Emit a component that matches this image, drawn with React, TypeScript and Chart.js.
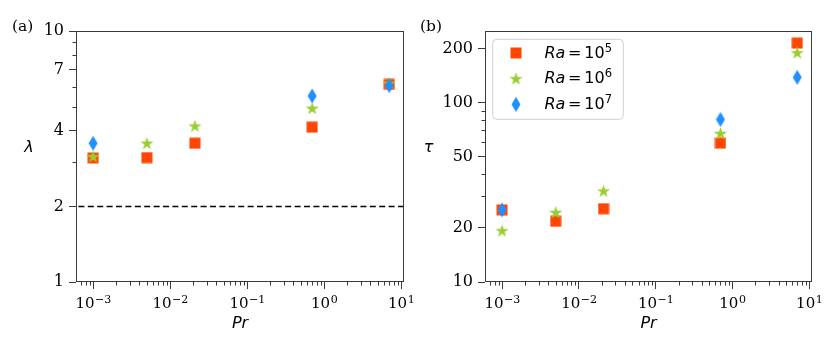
import React, { useEffect, useRef } from 'react';
import { Chart, registerables } from 'chart.js';

Chart.register(...registerables);

// ---------- data ----------
const PR = [1e-3, 5e-3, 2.1e-2, 0.7, 7];
const PR_RA7 = [1e-3, 0.7, 7];
const LAMBDA_RA5 = [3.12, 3.13, 3.57, 4.14, 6.13];
const LAMBDA_RA6 = [3.16, 3.57, 4.18, 4.92, 6.19];
const LAMBDA_RA7 = [3.57, 5.51, 6.06];
const TAU_RA5 = [25.2, 21.8, 25.6, 59.4, 214];
const TAU_RA6 = [19.3, 24.4, 32.1, 67.2, 189];
const TAU_RA7 = [25.2, 80.4, 138];
const LAMBDA_REF = 2;
const X_RANGE = [6.45e-4, 10.9];
const LAMBDA_RANGE = [1, 10];
const TAU_RANGE = [10, 250];
const X_TICK_EXPONENTS = [-3, -2, -1, 0, 1];
const LAMBDA_TICKS = [1, 2, 4, 7, 10];
const LAMBDA_MINOR = [3, 5, 6, 8, 9];
const TAU_TICKS = [10, 20, 50, 100, 200];
const TAU_MINOR = [30, 40, 60, 70, 80, 90];
const RA_EXPONENTS = ['5', '6', '7'];
const COLORS = ['#FF4500', '#9ACD32', '#1E90FF'];

const SPINE = '#3a3a3a';
const W = 415;
const H = 356;

function xMinorTicks(): number[] {
  const out: number[] = [];
  for (let e = -4; e <= 1; e++) {
    for (let m = 2; m <= 9; m++) {
      const v = m * Math.pow(10, e);
      if (v >= X_RANGE[0] && v <= X_RANGE[1]) out.push(v);
    }
  }
  return out;
}

function makeMarker(kind: string, color: string): HTMLCanvasElement {
  const c = document.createElement('canvas');
  const ctx = c.getContext('2d')!;
  if (kind === 'square') {
    c.width = 12; c.height = 12;
    ctx.fillStyle = color;
    ctx.fillRect(0.5, 0.5, 11, 11);
  } else if (kind === 'star') {
    c.width = 15; c.height = 15;
    const cx = 7.5, cy = 7.9, R = 7.0, r = R * 0.381966;
    ctx.fillStyle = color;
    ctx.beginPath();
    for (let i = 0; i < 10; i++) {
      const rad = i % 2 === 0 ? R : r;
      const a = -Math.PI / 2 + (i * Math.PI) / 5;
      const px = cx + rad * Math.cos(a);
      const py = cy + rad * Math.sin(a);
      if (i === 0) ctx.moveTo(px, py); else ctx.lineTo(px, py);
    }
    ctx.closePath();
    ctx.fill();
  } else {
    c.width = 10; c.height = 16;
    ctx.fillStyle = color;
    ctx.beginPath();
    ctx.moveTo(5, 0.5);
    ctx.lineTo(9.5, 8);
    ctx.lineTo(5, 15.5);
    ctx.lineTo(0.5, 8);
    ctx.closePath();
    ctx.fill();
  }
  return c;
}

function pts(xs: number[], ys: number[]) {
  return xs.map((x, i) => ({ x, y: ys[i] }));
}

interface PanelSpec {
  tag: string;
  yTitle: string;
  yRange: number[];
  yTicks: number[];
  yMinor: number[];
  yWidth: number;
  padRight: number;
  series: { xs: number[]; ys: number[] }[];
  refLine: number | null;
  legend: boolean;
  tagX: number;
  yTitleX: number;
}

function buildConfig(spec: PanelSpec, markers: HTMLCanvasElement[]): any {
  const xMinor = xMinorTicks();
  const datasets: any[] = spec.series.map((s, i) => ({
    label: 'Ra=10^' + RA_EXPONENTS[i],
    data: pts(s.xs, s.ys),
    pointStyle: markers[i],
    pointRadius: 6,
    pointHoverRadius: 6,
    showLine: false,
    order: 3 - i,
  }));
  if (spec.refLine !== null) {
    datasets.push({
      label: 'ref',
      data: pts(X_RANGE, [spec.refLine, spec.refLine]),
      showLine: true,
      borderColor: '#000',
      borderWidth: 1.5,
      borderDash: [6, 3.4],
      pointRadius: 0,
      order: 10,
    });
  }

  const decor = {
    id: 'decor' + spec.tag,
    afterDraw(chart: any) {
      const ctx: CanvasRenderingContext2D = chart.ctx;
      const a = chart.chartArea;
      const xs = chart.scales.x;
      const ys = chart.scales.y;
      ctx.save();
      // spines
      ctx.strokeStyle = SPINE;
      ctx.lineWidth = 1;
      const L = Math.round(a.left) + 0.5;
      const R = Math.round(a.right) - 0.5;
      const T = Math.round(a.top) + 0.5;
      const B = Math.round(a.bottom) - 0.5;
      ctx.strokeRect(L, T, R - L, B - T);
      // minor ticks
      ctx.beginPath();
      xMinor.forEach((v) => {
        const p = Math.round(xs.getPixelForValue(v)) + 0.5;
        ctx.moveTo(p, B);
        ctx.lineTo(p, B + 4);
      });
      spec.yMinor.forEach((v) => {
        const p = Math.round(ys.getPixelForValue(v)) + 0.5;
        ctx.moveTo(L, p);
        ctx.lineTo(L - 4, p);
      });
      ctx.stroke();
      // x tick labels 10^e
      ctx.fillStyle = '#000';
      ctx.textBaseline = 'alphabetic';
      ctx.textAlign = 'left';
      X_TICK_EXPONENTS.forEach((e) => {
        const p = xs.getPixelForValue(Math.pow(10, e));
        const sup = e < 0 ? '\u2212' + Math.abs(e) : String(e);
        ctx.font = '15px "DejaVu Serif"';
        const w1 = ctx.measureText('10').width;
        ctx.font = '11px "DejaVu Serif"';
        const w2 = ctx.measureText(sup).width;
        const x0 = p - (w1 + w2) / 2;
        ctx.font = '15px "DejaVu Serif"';
        ctx.fillText('10', x0, 308);
        ctx.font = '11px "DejaVu Serif"';
        ctx.fillText(sup, x0 + w1 + 0.5, 302.5);
      });
      // axis titles
      ctx.textAlign = 'center';
      ctx.font = 'italic 16px "DejaVu Sans"';
      ctx.fillText('Pr', (a.left + a.right) / 2, 328);
      ctx.fillText(spec.yTitle, spec.yTitleX, 152);
      // panel tag
      ctx.textAlign = 'left';
      ctx.font = '15.5px "DejaVu Serif"';
      ctx.fillText('(' + spec.tag + ')', spec.tagX, 31);
      // legend
      if (spec.legend) {
        const bx = 77.7, by = 39.3, bw = 130.6, bh = 80, rr = 4;
        ctx.fillStyle = 'rgba(255,255,255,0.85)';
        ctx.strokeStyle = '#d0d0d0';
        ctx.lineWidth = 1;
        ctx.beginPath();
        ctx.moveTo(bx + rr, by);
        ctx.lineTo(bx + bw - rr, by);
        ctx.arcTo(bx + bw, by, bx + bw, by + rr, rr);
        ctx.lineTo(bx + bw, by + bh - rr);
        ctx.arcTo(bx + bw, by + bh, bx + bw - rr, by + bh, rr);
        ctx.lineTo(bx + rr, by + bh);
        ctx.arcTo(bx, by + bh, bx, by + bh - rr, rr);
        ctx.lineTo(bx, by + rr);
        ctx.arcTo(bx, by, bx + rr, by, rr);
        ctx.closePath();
        ctx.fill();
        ctx.stroke();
        const rows = [53, 78.7, 104.4];
        RA_EXPONENTS.forEach((ex, i) => {
          const m = markers[i];
          const cy = rows[i];
          ctx.drawImage(m, 101 - m.width / 2, cy - m.height / 2);
          const base = cy + 4.5;
          let tx = 129.5;
          ctx.fillStyle = '#000';
          ctx.font = 'italic 16px "DejaVu Sans"';
          ctx.fillText('Ra', tx, base);
          tx += ctx.measureText('Ra').width + 2.5;
          ctx.font = '16px "DejaVu Sans"';
          ctx.fillText('=', tx, base);
          tx += ctx.measureText('=').width + 3;
          ctx.fillText('10', tx, base);
          tx += ctx.measureText('10').width;
          ctx.font = '11.5px "DejaVu Sans"';
          ctx.fillText(ex, tx, base - 6);
        });
      }
      ctx.restore();
    },
  };

  const grid = {
    drawOnChartArea: false,
    drawTicks: true,
    tickLength: 7,
    tickColor: SPINE,
    tickWidth: 1,
  };

  return {
    type: 'scatter',
    data: { datasets },
    options: {
      responsive: false,
      animation: false,
      devicePixelRatio: 1,
      events: [],
      layout: { padding: { left: 0, right: spec.padRight, top: 31, bottom: H - 282 - 50 } },
      plugins: { legend: { display: false }, tooltip: { enabled: false } },
      scales: {
        x: {
          type: 'logarithmic',
          min: X_RANGE[0],
          max: X_RANGE[1],
          afterBuildTicks: (s: any) => {
            s.ticks = X_TICK_EXPONENTS.map((e) => ({ value: Math.pow(10, e) }));
          },
          afterFit: (s: any) => {
            s.height = 50;
            s.paddingLeft = 0;
            s.paddingRight = 0;
          },
          grid,
          border: { display: false },
          ticks: { display: false },
        },
        y: {
          type: 'logarithmic',
          min: spec.yRange[0],
          max: spec.yRange[1],
          afterBuildTicks: (s: any) => {
            s.ticks = spec.yTicks.map((v) => ({ value: v }));
          },
          afterFit: (s: any) => {
            s.width = spec.yWidth;
            s.paddingTop = 0;
            s.paddingBottom = 0;
          },
          grid,
          border: { display: false },
          ticks: {
            autoSkip: false,
            padding: 5,
            color: '#000',
            font: { family: 'DejaVu Serif', size: 16 },
            callback: (v: any) => String(v),
          },
        },
      },
    },
    plugins: [decor],
  };
}

const SPEC_A: PanelSpec = {
  tag: 'a',
  yTitle: '\u03bb',
  yRange: LAMBDA_RANGE,
  yTicks: LAMBDA_TICKS,
  yMinor: LAMBDA_MINOR,
  yWidth: 76,
  padRight: W - 404,
  series: [
    { xs: PR, ys: LAMBDA_RA5 },
    { xs: PR, ys: LAMBDA_RA6 },
    { xs: PR_RA7, ys: LAMBDA_RA7 },
  ],
  refLine: LAMBDA_REF,
  legend: false,
  tagX: 12,
  yTitleX: 29,
};

const SPEC_B: PanelSpec = {
  tag: 'b',
  yTitle: '\u03c4',
  yRange: TAU_RANGE,
  yTicks: TAU_TICKS,
  yMinor: TAU_MINOR,
  yWidth: 70,
  padRight: W - 397,
  series: [
    { xs: PR, ys: TAU_RA5 },
    { xs: PR, ys: TAU_RA6 },
    { xs: PR_RA7, ys: TAU_RA7 },
  ],
  refLine: null,
  legend: true,
  tagX: 5,
  yTitleX: 13.5,
};

function Panel({ left, spec }: { left: number; spec: PanelSpec }) {
  const ref = useRef<HTMLCanvasElement>(null);
  useEffect(() => {
    const markers = [
      makeMarker('square', COLORS[0]),
      makeMarker('star', COLORS[1]),
      makeMarker('diamond', COLORS[2]),
    ];
    const chart = new Chart(ref.current as HTMLCanvasElement, buildConfig(spec, markers));
    return () => chart.destroy();
  }, []);
  return (
    <canvas
      ref={ref}
      width={W}
      height={H}
      style={{ position: 'absolute', left, top: 0, width: W, height: H }}
    />
  );
}

export default function App() {
  return (
    <div style={{ position: 'fixed', left: 0, top: 0, width: 830, height: 356, background: '#fff' }}>
      <Panel left={0} spec={SPEC_A} />
      <Panel left={415} spec={SPEC_B} />
    </div>
  );
}
